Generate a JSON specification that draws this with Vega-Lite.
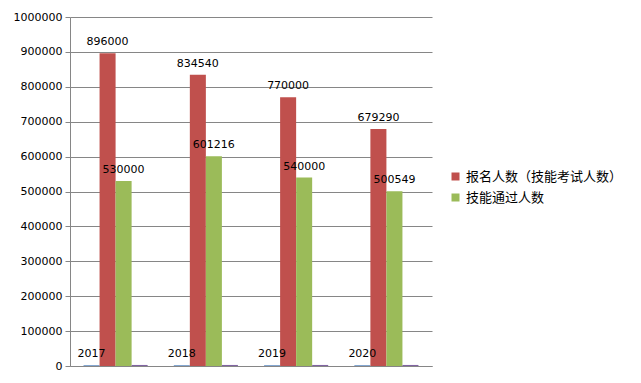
{
  "$schema": "https://vega.github.io/schema/vega-lite/v6.json",
  "width": 362,
  "height": 349,
  "autosize": {"type": "none"},
  "padding": {"left": 70, "top": 17, "right": 209, "bottom": 17},
  "background": "white",
  "config": {
    "view": {"stroke": null},
    "font": "DejaVu Sans"
  },
  "data": {
    "values": [
      {"year": "2017", "series": "年份", "value": 2017},
      {"year": "2017", "series": "报名人数（技能考试人数）", "value": 896000},
      {"year": "2017", "series": "技能通过人数", "value": 530000},
      {"year": "2017", "series": "其他", "value": 3000},
      {"year": "2018", "series": "年份", "value": 2018},
      {"year": "2018", "series": "报名人数（技能考试人数）", "value": 834540},
      {"year": "2018", "series": "技能通过人数", "value": 601216},
      {"year": "2018", "series": "其他", "value": 3000},
      {"year": "2019", "series": "年份", "value": 2019},
      {"year": "2019", "series": "报名人数（技能考试人数）", "value": 770000},
      {"year": "2019", "series": "技能通过人数", "value": 540000},
      {"year": "2019", "series": "其他", "value": 3000},
      {"year": "2020", "series": "年份", "value": 2020},
      {"year": "2020", "series": "报名人数（技能考试人数）", "value": 679290},
      {"year": "2020", "series": "技能通过人数", "value": 500549},
      {"year": "2020", "series": "其他", "value": 3000}
    ]
  },
  "encoding": {
    "x": {
      "field": "year",
      "type": "nominal",
      "scale": {"paddingInner": 0.29, "paddingOuter": 0.15},
      "axis": {
        "title": null,
        "labels": false,
        "ticks": false,
        "domainColor": "#868686",
        "domainWidth": 1
      }
    },
    "xOffset": {
      "field": "series",
      "type": "nominal",
      "scale": {"domain": ["年份", "报名人数（技能考试人数）", "技能通过人数", "其他"], "paddingInner": 0, "paddingOuter": 0}
    },
    "y": {
      "field": "value",
      "type": "quantitative",
      "scale": {"domain": [0, 1000000], "nice": false},
      "axis": {
        "title": null,
        "values": [0, 100000, 200000, 300000, 400000, 500000, 600000, 700000, 800000, 900000, 1000000],
        "labelOverlap": false,
        "format": "d",
        "labelFont": "DejaVu Sans",
        "labelFontSize": 11,
        "labelColor": "#000000",
        "labelPadding": 3,
        "gridColor": "#868686",
        "gridWidth": 1,
        "domainColor": "#868686",
        "tickColor": "#868686",
        "tickSize": 5
      }
    }
  },
  "layer": [
    {
      "mark": {"type": "bar"},
      "encoding": {
        "color": {
          "field": "series",
          "type": "nominal",
          "scale": {
            "domain": ["年份", "报名人数（技能考试人数）", "技能通过人数", "其他"],
            "range": ["#4F81BD", "#C0504D", "#9BBB59", "#8064A2"]
          },
          "legend": {
            "values": ["报名人数（技能考试人数）", "技能通过人数"],
            "title": null,
            "orient": "none",
            "legendX": 379,
            "legendY": 153,
            "symbolType": "square",
            "symbolSize": 64,
            "symbolStrokeWidth": 0,
            "labelFont": "Noto Sans CJK SC",
            "labelFontSize": 13,
            "labelColor": "#000000",
            "rowPadding": 7,
            "labelOffset": 4
          }
        }
      }
    },
    {
      "transform": [{"filter": "datum.series !== '其他'"}],
      "mark": {"type": "text", "baseline": "bottom", "dy": -6, "fontSize": 11, "font": "DejaVu Sans", "color": "#000000"},
      "encoding": {
        "text": {"field": "value", "type": "quantitative", "format": "d"}
      }
    }
  ]
}
